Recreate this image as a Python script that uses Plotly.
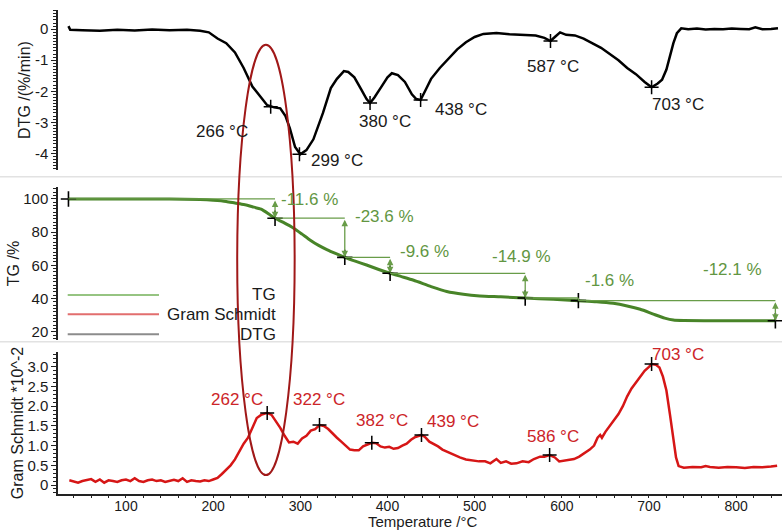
import plotly.graph_objects as go

# ---------------- data ----------------
dtg_T = [34, 36, 50, 70, 90, 110, 130, 150, 170, 185, 195, 205, 215, 225, 235, 245, 255, 262, 270, 277,
         283, 288, 294, 300, 307, 315, 326, 335, 342, 350, 355, 362, 370, 376, 380, 385, 392, 400, 405,
         412, 420, 428, 433, 438, 443, 450, 460, 470, 480, 490, 500, 510, 525, 540, 555, 570, 580, 587,
         592, 598, 605, 615, 625, 635, 645, 655, 665, 675, 685, 695, 703, 710, 715, 720, 724, 728, 732,
         737, 745, 755, 765, 775, 785, 795, 805, 815, 822, 830, 840, 848]
dtg_v = [0.1, -0.02, -0.03, -0.05, -0.02, -0.04, -0.01, -0.03, -0.02, -0.05, -0.1, -0.3, -0.45, -0.75,
         -1.25, -1.85, -2.2, -2.45, -2.52, -2.55, -2.8, -3.2, -3.8, -4.03, -3.9, -3.55, -2.7, -1.9, -1.6,
         -1.35, -1.38, -1.55, -1.95, -2.25, -2.38, -2.2, -1.9, -1.55, -1.42, -1.48, -1.7, -2.1, -2.25,
         -2.28, -2.0, -1.6, -1.25, -0.95, -0.65, -0.42, -0.25, -0.15, -0.12, -0.16, -0.18, -0.2, -0.28,
         -0.38, -0.25, -0.1, -0.18, -0.2, -0.3, -0.45, -0.6, -0.8, -1.0, -1.25, -1.45, -1.7, -1.87,
         -1.75, -1.63, -1.3, -0.88, -0.45, -0.13, 0.03, 0.0, 0.02, -0.01, 0.01, 0.0, 0.02, 0.01, 0.0,
         0.06, 0.0, 0.01, 0.03]

tg_T = [34, 100, 150, 185, 200, 215, 225, 235, 245, 255, 265, 271, 280, 292, 302, 311, 321, 331, 341,
        351, 363, 376, 390, 403, 416, 430, 450, 468, 487, 506, 530, 558, 590, 619, 640, 659, 675, 690,
        705, 718, 728, 740, 774, 845]
tg_v = [100, 100, 99.9, 99.6, 99.2, 98.5, 97.5, 96.6, 95.3, 93.8, 90.5, 88.4, 86.0, 82.5, 78.8, 75.3,
        72.0, 69.3, 67.0, 64.8, 62.5, 60.2, 57.5, 55.2, 53.2, 51.0, 47.2, 44.2, 42.5, 41.5, 41.0, 40.3,
        39.5, 38.7, 38.1, 37.1, 35.5, 33.5, 30.6, 28.2, 27.0, 26.7, 26.6, 26.6]

gs_T = [35, 40, 45, 50, 55, 60, 65, 70, 75, 80, 85, 90, 95, 100, 105, 110, 115, 120, 125, 130, 135,
        140, 145, 150, 155, 160, 165, 170, 175, 180, 185, 190, 195, 200, 205, 210, 215, 220, 225, 230,
        235, 240, 245, 250, 255, 262, 267, 272, 277, 282, 287, 292, 297, 302, 307, 312, 317, 322, 327,
        332, 337, 342, 347, 352, 357, 362, 367, 372, 377, 382, 387, 392, 397, 402, 407, 412, 417, 422,
        427, 432, 439, 443, 448, 453, 458, 463, 468, 473, 478, 483, 490, 498, 505, 512, 518, 525, 530,
        536, 542, 548, 555, 562, 568, 575, 580, 586, 592, 597, 602, 608, 614, 620, 626, 632, 637, 641,
        644, 646, 650, 655, 660, 665, 670, 675, 680, 685, 690, 695, 700, 703, 708, 712, 716, 720, 724,
        728, 731, 734, 740, 750, 760, 765, 770, 780, 790, 800, 810, 820, 830, 840, 847]
gs_v = [0.12, 0.08, 0.06, 0.1, 0.12, 0.15, 0.08, 0.14, 0.06, 0.12, 0.1, 0.08, 0.12, 0.14, 0.1, 0.17,
        0.1, 0.08, 0.12, 0.14, 0.1, 0.12, 0.08, 0.1, 0.13, 0.1, 0.17, 0.08, 0.12, 0.1, 0.09, 0.12, 0.1,
        0.14, 0.18, 0.28, 0.38, 0.5, 0.65, 0.85, 1.05, 1.2, 1.45, 1.7, 1.78, 1.83, 1.78, 1.62, 1.45,
        1.25, 1.08, 1.1, 1.05, 1.18, 1.25, 1.38, 1.42, 1.52, 1.5, 1.42, 1.3, 1.2, 1.1, 1.0, 0.9, 0.88,
        0.88, 0.98, 1.02, 1.07, 1.06, 0.98, 0.95, 0.97, 0.92, 0.94, 1.0, 1.05, 1.15, 1.22, 1.27, 1.22,
        1.1, 1.05, 0.98, 0.9, 0.85, 0.78, 0.74, 0.7, 0.65, 0.62, 0.6, 0.6, 0.55, 0.66, 0.56, 0.6, 0.54,
        0.55, 0.6, 0.58, 0.66, 0.72, 0.72, 0.76, 0.7, 0.6, 0.62, 0.64, 0.66, 0.72, 0.8, 0.9, 1.0, 1.2,
        1.27, 1.2, 1.35, 1.5, 1.62, 1.8, 2.0, 2.25, 2.45, 2.6, 2.75, 2.9, 3.0, 3.07, 3.05, 2.98, 2.75,
        2.4, 1.8, 1.2, 0.7, 0.48, 0.44, 0.46, 0.45, 0.48, 0.46, 0.44, 0.46, 0.45, 0.43, 0.46, 0.45,
        0.47, 0.49]

dtg_peak_T = [266, 299, 380, 438, 587, 703]
dtg_peak_v = [-2.5, -4.03, -2.38, -2.28, -0.38, -1.87]
gs_peak_T = [262, 322, 382, 439, 586, 703]
gs_peak_v = [1.83, 1.52, 1.07, 1.27, 0.76, 3.07]
tg_step_T = [34, 271, 351, 403, 558, 619, 845]
tg_step_v = [100, 88.4, 64.8, 55.2, 40.3, 38.7, 26.6]
tg_step_pct = ["-11.6 %", "-23.6 %", "-9.6 %", "-14.9 %", "-1.6 %", "-12.1 %"]

x_ticks = [100, 200, 300, 400, 500, 600, 700, 800]
dtg_ticks = [-4, -3, -2, -1, 0]
tg_ticks = [20, 40, 60, 80, 100]
gs_ticks = [0, 0.5, 1.0, 1.5, 2.0, 2.5, 3.0]
gs_tick_text = ["0", "0.5", "1.0", "1.5", "2.0", "2.5", "3.0"]

# ---------------- label placement (layout) ----------------
dtg_label_pos = [(210, -3.29), (342, -4.22), (397, -2.99), (484, -2.6), (590, -1.21), (733, -2.44)]
gs_label_pos = [(227, 2.16), (321, 2.16), (394, 1.65), (475, 1.61), (590, 1.23), (733, 3.32)]
tg_label_pos = [(275, 99.4), (361, 89.3), (412, 68.2), (518, 65.6), (624, 50.6), (760, 57.6)]

FONT = "Liberation Sans, Arial, sans-serif"
TXT = "#1a1a1a"
GREEN = "rgb(72,132,40)"
GREEN_T = "rgb(98,150,66)"
GREEN_L = "rgb(104,156,72)"
RED = "rgb(214,22,22)"
RED_T = "rgb(204,36,40)"
DARKRED = "rgb(160,24,24)"

fig = go.Figure()

fig.add_trace(go.Scatter(x=dtg_T, y=dtg_v, xaxis="x", yaxis="y", mode="lines",
                         line=dict(color="black", width=2.5), hoverinfo="skip"))
fig.add_trace(go.Scatter(x=dtg_peak_T, y=dtg_peak_v, xaxis="x", yaxis="y", mode="markers",
                         marker=dict(symbol="cross-thin", size=10, line=dict(color="black", width=1.5))))

fig.add_trace(go.Scatter(x=tg_T, y=tg_v, xaxis="x", yaxis="y2", mode="lines",
                         line=dict(color=GREEN, width=3, shape="spline", smoothing=0.6)))
fig.add_trace(go.Scatter(x=tg_step_T, y=tg_step_v, xaxis="x", yaxis="y2", mode="markers",
                         marker=dict(symbol="cross-thin", size=11, line=dict(color="black", width=1.6))))

fig.add_trace(go.Scatter(x=gs_T, y=gs_v, xaxis="x", yaxis="y3", mode="lines",
                         line=dict(color=RED, width=2.5)))
fig.add_trace(go.Scatter(x=gs_peak_T, y=gs_peak_v, xaxis="x", yaxis="y3", mode="markers",
                         marker=dict(symbol="cross-thin", size=10, line=dict(color="black", width=1.5))))

shapes = []
annotations = []

# TG step lines and arrows
for i in range(len(tg_step_T) - 1):
    t0, t1 = tg_step_T[i], tg_step_T[i + 1]
    v0, v1 = tg_step_v[i], tg_step_v[i + 1]
    shapes.append(dict(type="line", xref="x", yref="y2", x0=t0, x1=t1, y0=v0, y1=v0,
                       line=dict(color=GREEN_L, width=1.3)))
    if v0 - v1 > 3:
        annotations.append(dict(x=t1, y=v1, ax=t1, ay=v0, xref="x", yref="y2", axref="x", ayref="y2",
                                text="", showarrow=True, arrowhead=2, startarrowhead=2,
                                arrowside="end+start", arrowsize=1, arrowwidth=1.3,
                                arrowcolor=GREEN_L, standoff=0, startstandoff=0))
    else:
        shapes.append(dict(type="line", xref="x", yref="y2", x0=t1, x1=t1, y0=v0, y1=v1,
                           line=dict(color=GREEN_L, width=1.3)))
    lx, ly = tg_label_pos[i]
    annotations.append(dict(x=lx, y=ly, xref="x", yref="y2", text=tg_step_pct[i], showarrow=False,
                            xanchor="left", yanchor="middle", font=dict(family=FONT, size=17, color=GREEN_T)))

for i, t in enumerate(dtg_peak_T):
    lx, ly = dtg_label_pos[i]
    annotations.append(dict(x=lx, y=ly, xref="x", yref="y", text=f"{t} °C", showarrow=False,
                            xanchor="center", yanchor="middle", font=dict(family=FONT, size=17, color=TXT)))
for i, t in enumerate(gs_peak_T):
    lx, ly = gs_label_pos[i]
    annotations.append(dict(x=lx, y=ly, xref="x", yref="y3", text=f"{t} °C", showarrow=False,
                            xanchor="center", yanchor="middle", font=dict(family=FONT, size=17, color=RED_T)))

# separators
for yy in [0.6556, 0.3147]:
    shapes.append(dict(type="line", xref="paper", yref="paper", x0=-0.09, x1=1.0, y0=yy, y1=yy,
                       line=dict(color="rgb(226,226,226)", width=1.5), layer="below"))

# legend (drawn)
legend_items = [("TG", "rgb(150,196,130)", 0.4112), ("Gram Schmidt", "rgb(226,110,110)", 0.3713),
                ("DTG", "rgb(140,140,140)", 0.330)]
for name, col, yy in legend_items:
    shapes.append(dict(type="line", xref="paper", yref="paper", x0=0.0134, x1=0.1395, y0=yy, y1=yy,
                       line=dict(color=col, width=2)))
    annotations.append(dict(x=0.3039, y=yy, xref="paper", yref="paper", text=name, showarrow=False,
                            xanchor="right", yanchor="middle", font=dict(family=FONT, size=17, color=TXT)))

# ellipse
shapes.append(dict(type="circle", xref="x", yref="paper", x0=227.6, x1=293.5, y0=0.039, y1=0.928,
                   line=dict(color=DARKRED, width=2)))

# x axis title (placed like the reference, just under the tick labels)
annotations.append(dict(x=0.5045, y=-0.0744, xref="paper", yref="paper", text="Temperature /°C",
                        showarrow=False, xanchor="center", yanchor="bottom", yshift=-2,
                        font=dict(family=FONT, size=15, color=TXT)))

yax_common = dict(showline=True, linecolor="#222", linewidth=1.5, ticks="outside", ticklen=5,
                  tickcolor="#222", showgrid=False, zeroline=False,
                  tickfont=dict(family=FONT, size=15, color=TXT),
                  title_font=dict(family=FONT, size=16, color=TXT))

fig.update_layout(
    width=782, height=530,
    margin=dict(l=58, r=0, t=10, b=36),
    paper_bgcolor="white", plot_bgcolor="white",
    showlegend=False,
    font=dict(family=FONT, size=15, color=TXT),
    xaxis=dict(domain=[0, 1], anchor="y3", range=[22, 852.6], tickvals=x_ticks,
               showline=True, linecolor="#222", linewidth=1.5, ticks="outside", ticklen=2,
               tickcolor="#222", showgrid=False, zeroline=False, ticklabelstandoff=-4,
               minor=dict(dtick=20, tick0=0, ticks="outside", ticklen=2, tickcolor="#222"),
               tickfont=dict(family=FONT, size=14, color=TXT)),
    yaxis=dict(domain=[0.6694, 1], range=[-4.54, 0.62], tickvals=dtg_ticks,
               ticktext=[str(v) for v in dtg_ticks],
               minor=dict(dtick=0.1, tick0=0, ticks="outside", ticklen=3, tickcolor="#222"),
               title=dict(text="DTG /(%/min)", standoff=0), **yax_common),
    yaxis2=dict(domain=[0.3182, 0.6343], range=[15.0, 107.2], tickvals=tg_ticks,
                minor=dict(dtick=2, tick0=0, ticks="outside", ticklen=3, tickcolor="#222"),
                title=dict(text="TG /%", standoff=0), **yax_common),
    yaxis3=dict(domain=[0, 0.2934], range=[-0.228, 3.376], tickvals=gs_ticks, ticktext=gs_tick_text,
                minor=dict(dtick=0.1, tick0=0, ticks="outside", ticklen=3, tickcolor="#222"),
                title=dict(text="Gram Schmidt *10^-2", standoff=0), **yax_common),
    shapes=shapes,
    annotations=annotations,
)

fig.write_html("out.html")
